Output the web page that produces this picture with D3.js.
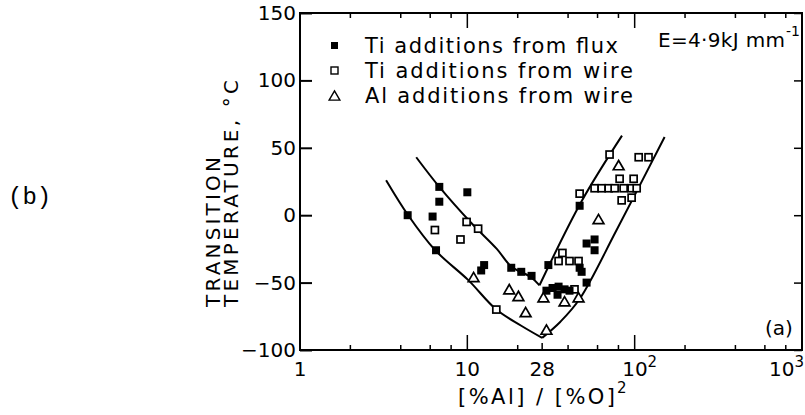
<!DOCTYPE html>
<html>
<head>
<meta charset="utf-8">
<script src="https://cdn.jsdelivr.net/npm/d3@7"></script>
<style>
  body { margin: 0; background: #fff; }
  svg text { font-family: "DejaVu Sans", sans-serif; fill: #000; }
</style>
</head>
<body>
<div class="wrapper"></div>
<script>
// Ti additions from flux (filled squares)
const flux_x = [4.4, 6.5, 6.8, 6.8, 6.2, 10, 12.6, 12.1, 18.3, 21, 24.2, 30.5, 29.7, 32.3, 35.1, 38.1, 40.8, 34.6, 51.6, 46.9, 48.2, 57.6, 51.6, 57.6, 46.9];
const flux_t = [0, -26, 21, 10, -1, 17, -37, -41, -39, -42, -45, -37, -56, -54, -53, -55, -56, -59, -50, -39, -42, -18, -21, -26, 7];

// Ti additions from wire (open squares)
const tiwire_x = [6.4, 9.1, 9.9, 11.6, 14.9, 37, 35.1, 40.8, 46.2, 43.7, 70.8, 105.7, 121, 81.3, 98.6, 57.6, 63.5, 69.9, 75.9, 85.9, 95.9, 102.8, 83.6, 95.9, 46.9];
const tiwire_t = [-11, -18, -5, -10, -70, -28, -34, -34, -34, -55, 45, 43, 43, 27, 27, 20, 20, 20, 20, 20, 20, 20, 11, 13, 16];

// Al additions from wire (open triangles)
const alwire_x = [10.9, 17.8, 20.2, 22.3, 28.5, 29.7, 38.1, 46.2, 60.8, 80.2];
const alwire_t = [-47, -56, -61, -73, -62, -86, -65, -62, -4, 36];

// hand drawn envelope curves
const upper_x = [4.95, 6.8, 10.6, 15, 18.3, 24, 27];
const upper_t = [43, 21, -6, -25, -38, -46, -52];
const upper_r_x = [27, 48, 84];
const upper_r_t = [-52, 10, 59];
const lower_x = [3.27, 4.43, 6.43, 10.1, 14.9, 21, 28];
const lower_t = [26, 0, -26, -48, -70, -82, -91];
const lower_r_x = [28, 36, 47, 78, 151];
const lower_r_t = [-91, -79, -62, -11, 58];

const y_ticks = [-100, -50, 0, 50, 100, 150];
const x_labels = [1, 10, 28, 100, 1000];
const x_minor = [2, 4, 6, 8, 20, 40, 60, 80, 200, 400, 600, 800];
const legend_labels = ["Ti additions from flux", "Ti additions from wire", "Al additions from wire"];
const legend_len = [253, 268, 268];

const width = 805, height = 415;
const m_left = 300, m_right = 802, m_top = 13, m_bottom = 350;

const svg = d3.select(".wrapper").append("svg")
  .attr("width", width)
  .attr("height", height);

const x = d3.scaleLog().domain([1, 1000]).range([m_left, m_right]);
const y = d3.scaleLinear().domain([-100, 150]).range([m_bottom, m_top]);

// frame
svg.append("rect")
  .attr("x", m_left).attr("y", m_top)
  .attr("width", m_right - m_left).attr("height", m_bottom - m_top)
  .attr("fill", "none").attr("stroke", "#000").attr("stroke-width", 2);

// y axis, ticks inside
const yAxis = svg.append("g")
  .attr("transform", "translate(" + m_left + ",0)")
  .call(d3.axisLeft(y).tickValues(y_ticks).tickSize(-12).tickPadding(4));
yAxis.select(".domain").remove();
yAxis.selectAll("line").attr("stroke-width", 2);
yAxis.selectAll("text").style("font-size", "20px").attr("font-family", null);

const yRight = svg.append("g")
  .attr("transform", "translate(" + m_right + ",0)")
  .call(d3.axisRight(y).tickValues(y_ticks).tickSize(-8).tickFormat(""));
yRight.select(".domain").remove();
yRight.selectAll("line").attr("stroke-width", 1.5);

// x ticks top and bottom
const majors = [10, 100];
[[m_bottom, -1], [m_top, 1]].forEach(([yy, dir]) => {
  svg.append("g").selectAll("line")
    .data(majors.concat(x_minor).concat(yy == m_bottom ? [28] : []))
    .enter().append("line")
    .attr("x1", (d) => x(d)).attr("x2", (d) => x(d))
    .attr("y1", yy)
    .attr("y2", (d) => yy + dir * (majors.includes(d) ? 15 : d == 28 ? 7 : 5))
    .attr("stroke", "#000").attr("stroke-width", 1.5);
});

// x tick labels
const xl = svg.append("g").selectAll("text")
  .data(x_labels)
  .enter().append("text")
  .attr("x", (d) => (d == 1000 ? 804 : x(d) + (d == 100 ? 5 : 0)))
  .attr("y", 376)
  .attr("text-anchor", (d) => (d == 1000 ? "end" : "middle"))
  .style("font-size", "20px");
xl.each(function (d) {
  const t = d3.select(this);
  if (d >= 100) {
    t.append("tspan").text("10");
    t.append("tspan").attr("dy", -9).style("font-size", "15px").text(d == 100 ? "2" : "3");
  } else {
    t.text(d);
  }
});

// axis titles
svg.append("text")
  .attr("transform", "translate(220,307) rotate(-90)")
  .attr("textLength", 150)
  .style("font-size", "20px")
  .text("TRANSITION");
svg.append("text")
  .attr("transform", "translate(238,307) rotate(-90)")
  .attr("textLength", 227)
  .style("font-size", "20px")
  .text("TEMPERATURE, °C");

svg.append("text")
  .attr("x", 458).attr("y", 404)
  .attr("textLength", 157)
  .style("font-size", "21px")
  .text("[%Al] / [%O]");
svg.append("text")
  .attr("x", 617).attr("y", 393)
  .style("font-size", "15px")
  .text("2");

// curves
const line = d3.line()
  .x((d) => x(d[0]))
  .y((d) => y(d[1]))
  .curve(d3.curveCatmullRom);

[[upper_x, upper_t], [upper_r_x, upper_r_t], [lower_x, lower_t], [lower_r_x, lower_r_t]].forEach(([xs, ts]) => {
  svg.append("path")
    .datum(d3.zip(xs, ts))
    .attr("d", line)
    .attr("fill", "none")
    .attr("stroke", "#000")
    .attr("stroke-width", 2);
});

// points
const sq = 7;
svg.append("g").selectAll("rect")
  .data(d3.zip(tiwire_x, tiwire_t))
  .enter().append("rect")
  .attr("x", (d) => x(d[0]) - sq / 2).attr("y", (d) => y(d[1]) - sq / 2)
  .attr("width", sq).attr("height", sq)
  .attr("fill", "#fff").attr("stroke", "#000").attr("stroke-width", 1.7);

svg.append("g").selectAll("rect")
  .data(d3.zip(flux_x, flux_t))
  .enter().append("rect")
  .attr("x", (d) => x(d[0]) - 4).attr("y", (d) => y(d[1]) - 4)
  .attr("width", 8).attr("height", 8)
  .attr("fill", "#000");

const tri = d3.symbol().type(d3.symbolTriangle).size(50);
svg.append("g").selectAll("path")
  .data(d3.zip(alwire_x, alwire_t))
  .enter().append("path")
  .attr("d", tri)
  .attr("transform", (d) => "translate(" + x(d[0]) + "," + y(d[1]) + ")")
  .attr("fill", "#fff").attr("stroke", "#000").attr("stroke-width", 1.7);

// legend
const lg = svg.append("g").attr("class", "legend");
legend_labels.forEach((lab, i) => {
  const ly = 46 + i * 25;
  if (i == 0) {
    lg.append("rect").attr("x", 331).attr("y", ly - 4).attr("width", sq).attr("height", sq).attr("fill", "#000");
  } else if (i == 1) {
    lg.append("rect").attr("x", 331).attr("y", ly - 4).attr("width", sq).attr("height", sq)
      .attr("fill", "#fff").attr("stroke", "#000").attr("stroke-width", 1.4);
  } else {
    lg.append("path").attr("d", tri).attr("transform", "translate(334.5," + (ly + 1) + ")")
      .attr("fill", "#fff").attr("stroke", "#000").attr("stroke-width", 1.4);
  }
  lg.append("text")
    .attr("x", 365).attr("y", ly + 7)
    .attr("textLength", legend_len[i])
    .style("font-size", "21px")
    .text(lab);
});

// energy label
svg.append("text")
  .attr("x", 658).attr("y", 47)
  .attr("textLength", 127)
  .style("font-size", "20px")
  .text("E=4·9kJ mm");
svg.append("text")
  .attr("x", 786).attr("y", 36)
  .style("font-size", "14px")
  .text("-1");

svg.append("text")
  .attr("x", 765).attr("y", 335)
  .style("font-size", "20px")
  .text("(a)");

svg.append("text")
  .attr("x", 8).attr("y", 204)
  .style("font-family", "'Liberation Mono', monospace")
  .style("font-size", "24px")
  .text("(b)");
</script>
</body>
</html>
